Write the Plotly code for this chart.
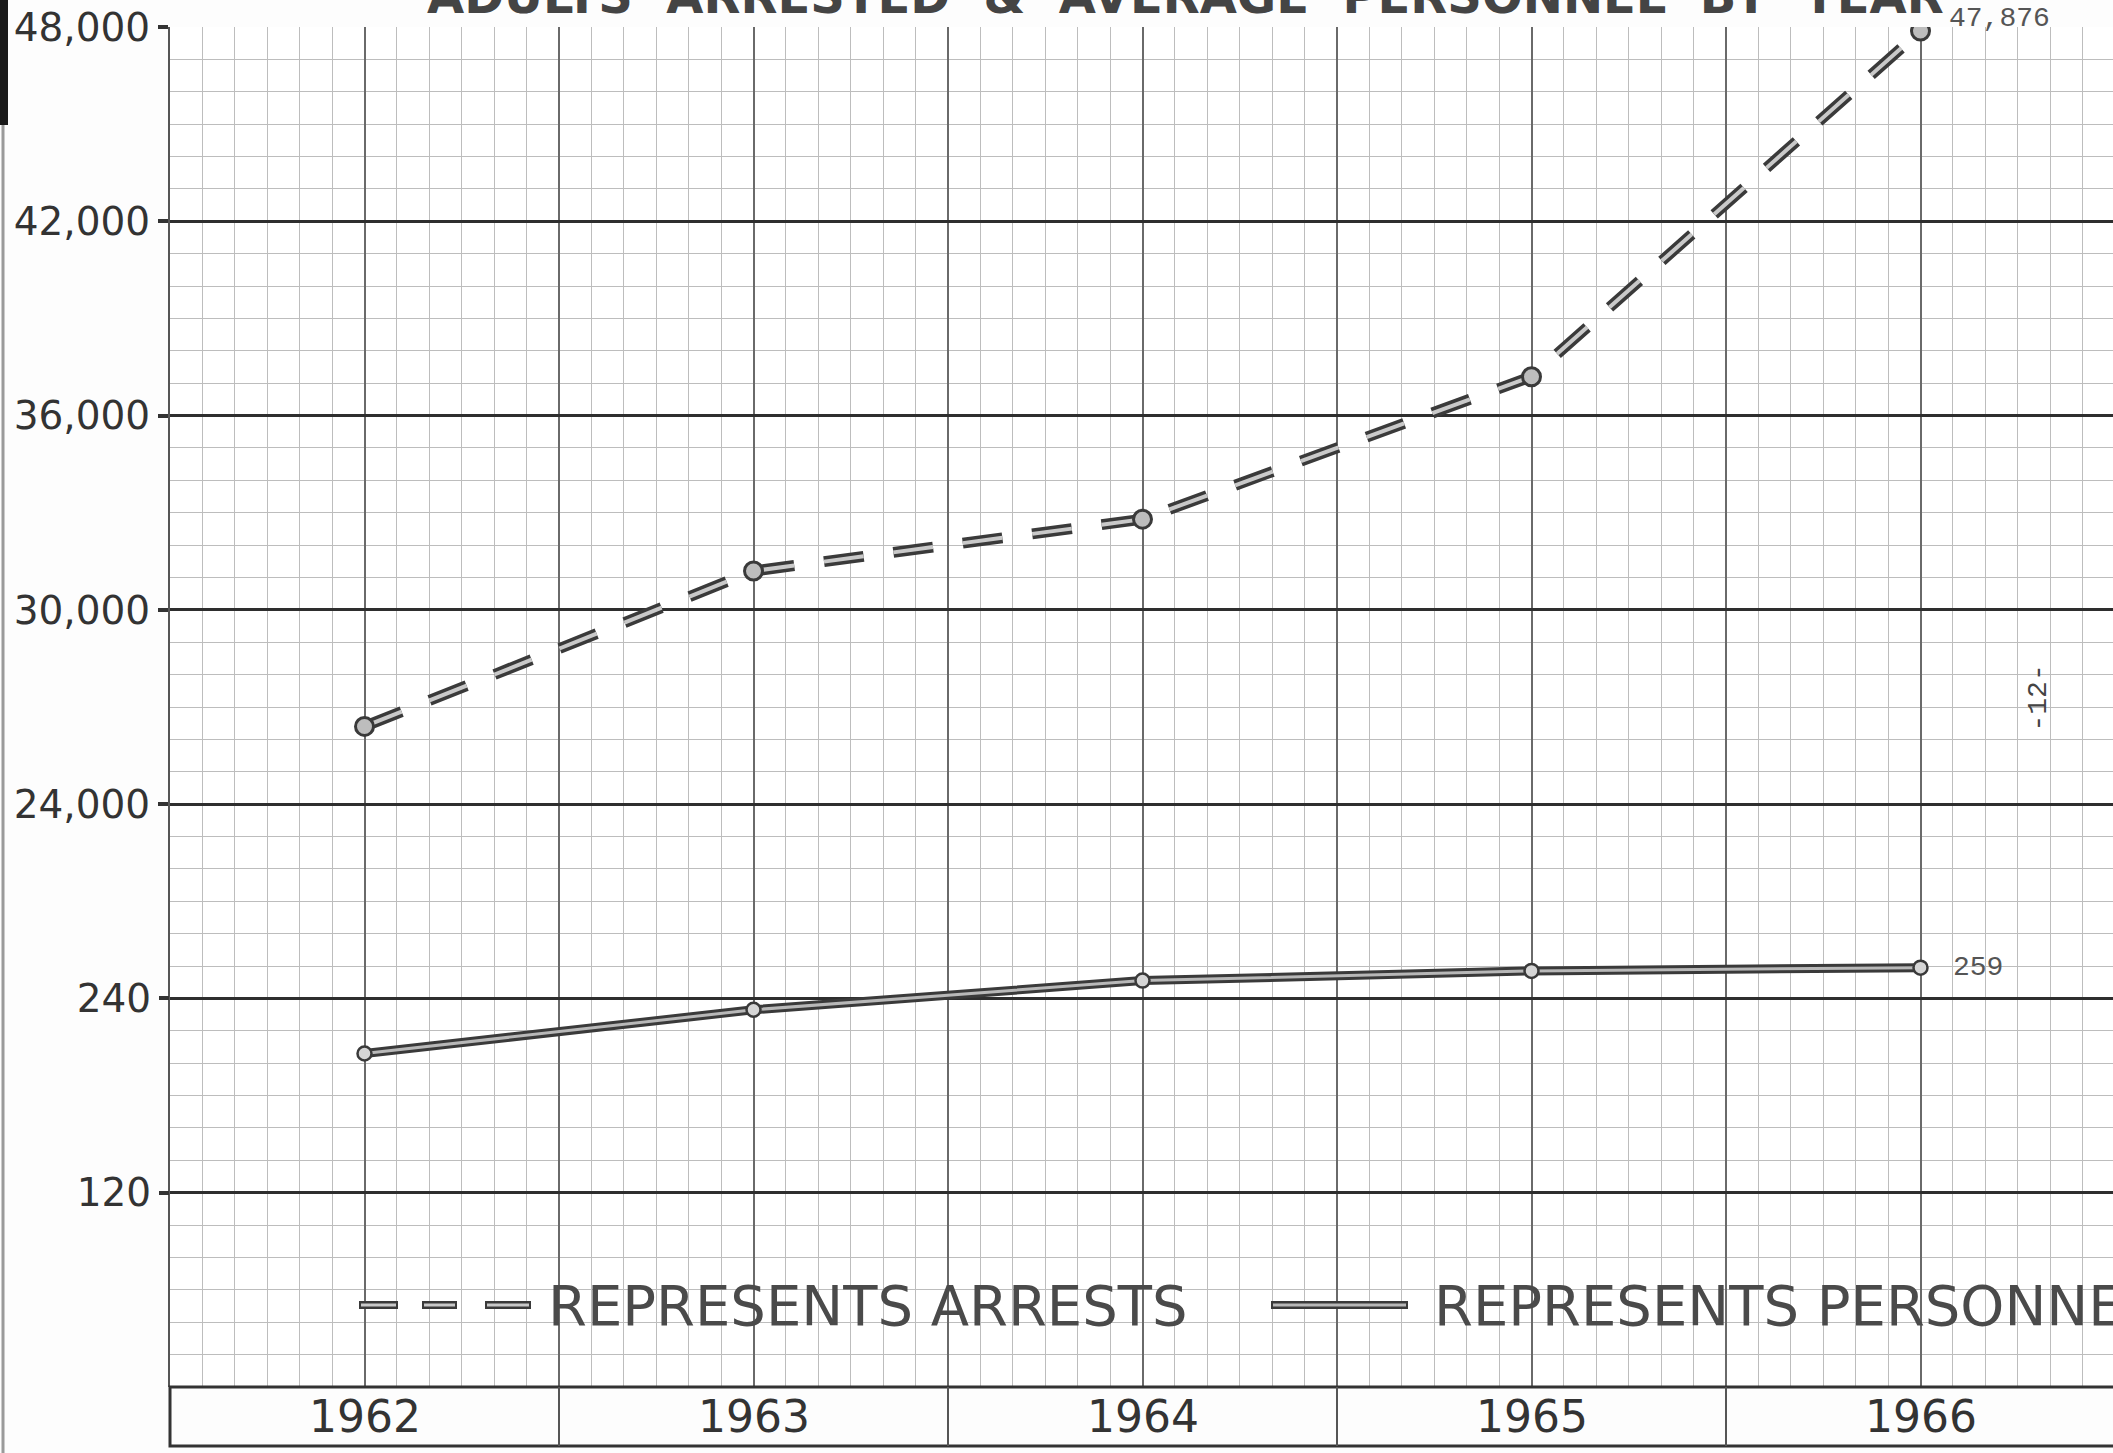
import plotly.graph_objects as go

# ---------------- data ----------------
years = [1962, 1963, 1964, 1965, 1966]
arrests = [26400, 31200, 32800, 37200, 47876]
personnel = [206, 233, 251, 257, 259]
arrest_ticks = [24000, 30000, 36000, 42000, 48000]
personnel_ticks = [120, 240]
title_text = "ADULTS  ARRESTED  &  AVERAGE  PERSONNEL  BY  YEAR"
legend_arrests = "REPRESENTS ARRESTS"
legend_personnel = "REPRESENTS PERSONNEL"
page_number = "-12-"

# ---------------- geometry ----------------
W, H = 2113, 1453
PL, PT, PB = 170, 27, 1387
PW, PH = W - PL, PB - PT
YEAR_PX = 389.0


def px(x):
    return (x - PL) / PW


def py(y):
    return (PB - y) / PH


x_range = [years[0] - 0.5, years[0] - 0.5 + PW / YEAR_PX]
y_range = [6000, 48000]
y2_range = [0, 840]

DARK = "#3a3a3a"
LIGHT = "#c9c9c9"
MONO = "Liberation Mono, DejaVu Sans Mono, monospace"
SANS = "DejaVu Sans, Liberation Sans, sans-serif"

fig = go.Figure()

# arrests: double-stroke dashed line
dash_pat = "40px,30px"
fig.add_trace(go.Scatter(x=years, y=arrests, mode="lines", yaxis="y",
                         line=dict(color=DARK, width=11, dash=dash_pat),
                         hoverinfo="skip", showlegend=False))
fig.add_trace(go.Scatter(x=years, y=arrests, mode="lines+markers", yaxis="y",
                         line=dict(color=LIGHT, width=4, dash=dash_pat),
                         marker=dict(symbol="circle", size=18, color="#bdbdbd",
                                     line=dict(color=DARK, width=3)),
                         name="Arrests", showlegend=False))

# personnel: double-stroke solid line
fig.add_trace(go.Scatter(x=years, y=personnel, mode="lines", yaxis="y2",
                         line=dict(color=DARK, width=9),
                         hoverinfo="skip", showlegend=False))
fig.add_trace(go.Scatter(x=years, y=personnel, mode="lines+markers", yaxis="y2",
                         line=dict(color="#b8b8b8", width=3),
                         marker=dict(symbol="circle", size=14, color="#d6d6d6",
                                     line=dict(color=DARK, width=2.5)),
                         name="Personnel", showlegend=False))

annotations = []
shapes = []

# partially cut-off title at the very top
annotations.append(dict(text=title_text, xref="paper", yref="paper",
                        x=px(1185), y=py(-4), xanchor="center", yanchor="middle",
                        showarrow=False,
                        font=dict(family=SANS, size=48, color="#444444", weight="bold")))

# value labels
annotations.append(dict(text=f"{arrests[-1]:,}", xref="x", yref="y",
                        x=years[-1], y=arrests[-1], xanchor="left", yanchor="middle",
                        xshift=26, yshift=13, showarrow=False,
                        font=dict(family=MONO, size=28, color="#555555")))
annotations.append(dict(text=f"{personnel[-1]}", xref="x", yref="y2",
                        x=years[-1], y=personnel[-1], xanchor="left", yanchor="middle",
                        xshift=30, yshift=0, showarrow=False,
                        font=dict(family=MONO, size=28, color="#555555")))

# page number
annotations.append(dict(text=page_number, xref="paper", yref="paper",
                        x=px(2055), y=py(698), textangle=-90, showarrow=False,
                        font=dict(family=MONO, size=28, color="#444444")))

# legend texts
annotations.append(dict(text=legend_arrests, xref="paper", yref="paper",
                        x=px(546), y=py(1305), xanchor="left", yanchor="middle",
                        showarrow=False, font=dict(family=SANS, size=56, color="#4a4a4a")))
annotations.append(dict(text=legend_personnel, xref="paper", yref="paper",
                        x=px(1432), y=py(1305), xanchor="left", yanchor="middle",
                        showarrow=False, font=dict(family=SANS, size=56, color="#4a4a4a")))

# legend samples (decoration)
for x0, x1 in [(359, 398), (422, 457), (485, 531)]:
    shapes.append(dict(type="line", xref="paper", yref="paper", x0=px(x0), x1=px(x1),
                       y0=py(1305), y1=py(1305), line=dict(color=DARK, width=8)))
    shapes.append(dict(type="line", xref="paper", yref="paper", x0=px(x0 + 2), x1=px(x1 - 2),
                       y0=py(1305), y1=py(1305), line=dict(color=LIGHT, width=3)))
shapes.append(dict(type="line", xref="paper", yref="paper", x0=px(1271), x1=px(1408),
                   y0=py(1305), y1=py(1305), line=dict(color=DARK, width=8)))
shapes.append(dict(type="line", xref="paper", yref="paper", x0=px(1273), x1=px(1406),
                   y0=py(1305), y1=py(1305), line=dict(color="#b8b8b8", width=3)))

# year box below the plot
box_top, box_bot = PB, 1446
shapes.append(dict(type="rect", xref="paper", yref="paper", x0=px(PL), x1=px(W + 20),
                   y0=py(box_bot), y1=py(box_top), line=dict(color="#333333", width=3),
                   fillcolor="rgba(255,255,255,0)", layer="above"))
for i in range(1, len(years)):
    xb = years[i] - 0.5
    shapes.append(dict(type="line", xref="x", yref="paper", x0=xb, x1=xb,
                       y0=py(box_bot), y1=py(box_top), line=dict(color="#555555", width=2)))
for yr in years:
    annotations.append(dict(text=str(yr), xref="x", yref="paper", x=yr,
                            y=py((box_top + box_bot) / 2), xanchor="center", yanchor="middle",
                            showarrow=False, font=dict(family=SANS, size=44, color="#333333")))

# scan edge on the left
shapes.append(dict(type="line", xref="paper", yref="paper", x0=px(3), x1=px(3),
                   y0=py(0), y1=py(H), line=dict(color="#9a9a9a", width=3)))
shapes.append(dict(type="line", xref="paper", yref="paper", x0=px(4), x1=px(4),
                   y0=py(0), y1=py(125), line=dict(color="#1a1a1a", width=8)))

tick_font = dict(family=SANS, size=39, color="#333333")

fig.update_layout(
    width=W, height=H,
    margin=dict(l=PL, r=0, t=PT, b=H - PB, pad=0, autoexpand=False),
    paper_bgcolor="#fdfdfd", plot_bgcolor="#ffffff",
    showlegend=False,
    annotations=annotations, shapes=shapes,
    xaxis=dict(range=x_range, tickmode="linear", tick0=years[0] - 0.5, dtick=0.5,
               showticklabels=False, ticks="", showgrid=True, gridcolor="#6a6a6a",
               gridwidth=1.5, zeroline=False, showline=False, automargin=False,
               minor=dict(dtick=1 / 12, tick0=years[0] - 0.5, showgrid=True,
                          gridcolor="#bdbdbd", gridwidth=1, ticks="")),
    yaxis=dict(range=y_range, tickmode="array", tickvals=arrest_ticks,
               ticktext=[f"{v:,}" for v in arrest_ticks], tickfont=tick_font,
               ticks="outside", ticklen=10, tickwidth=4, tickcolor="#333333",
               showgrid=True, gridcolor="#2e2e2e", gridwidth=2.5, zeroline=False,
               showline=True, linecolor="#555555", linewidth=2, automargin=False,
               minor=dict(dtick=1000, tick0=0, showgrid=True, gridcolor="#bdbdbd",
                          gridwidth=1, ticks="")),
    yaxis2=dict(range=y2_range, overlaying="y", side="left", anchor="x",
                tickmode="array", tickvals=personnel_ticks,
                ticktext=[str(v) for v in personnel_ticks], tickfont=tick_font,
                ticks="outside", ticklen=10, tickwidth=4, tickcolor="#333333",
                showgrid=True, gridcolor="#2e2e2e", gridwidth=2.5, zeroline=False,
                showline=False, automargin=False),
)

fig.write_html("out.html", config={"displayModeBar": False},
               post_script="document.body.style.margin='0';document.body.style.padding='0';")
